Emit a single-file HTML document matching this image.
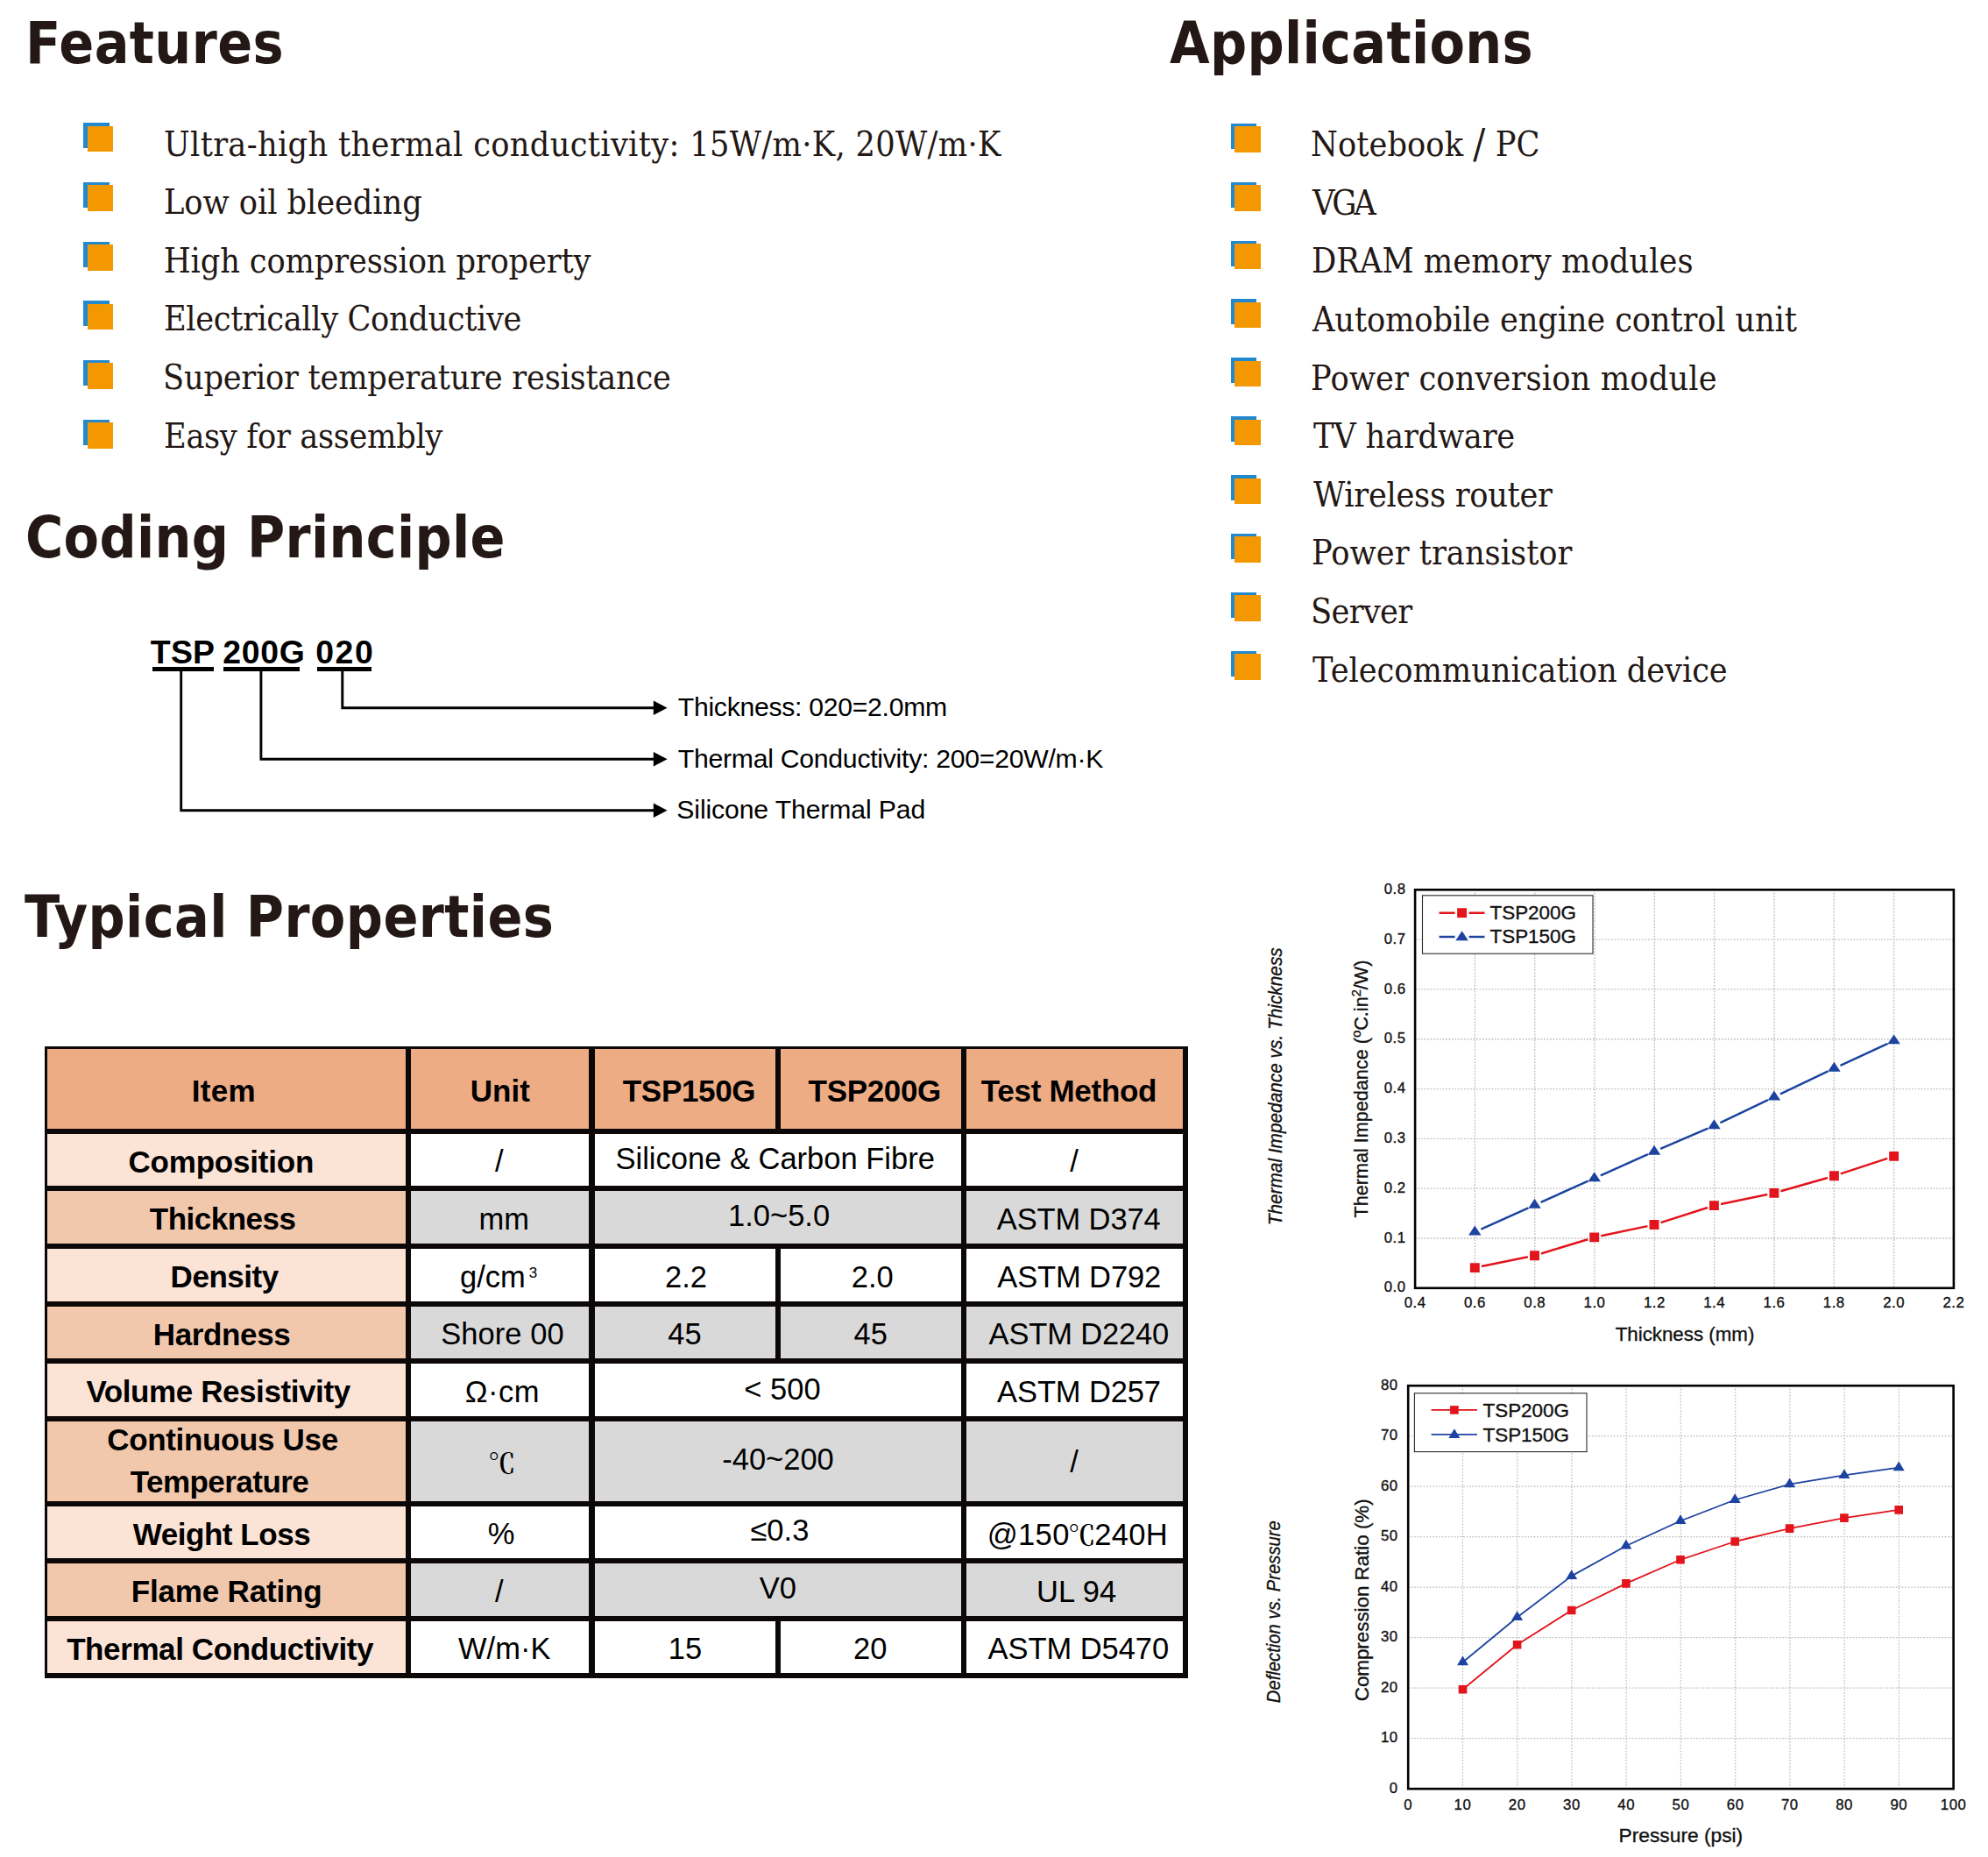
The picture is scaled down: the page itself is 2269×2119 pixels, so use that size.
<!DOCTYPE html>
<html lang="en">
<head>
<meta charset="utf-8">
<title>TSP Thermal Pad Datasheet</title>
<style>
html,body{margin:0;padding:0;background:#fff;}
body{width:2269px;height:2119px;position:relative;overflow:hidden;}
.t{position:absolute;white-space:nowrap;margin:0;padding:0;}
.r{position:absolute;}
svg{position:absolute;left:0;top:0;overflow:visible;}
svg text{font-family:"Liberation Sans",Arial,sans-serif;}
svg.ch text{stroke:#111;stroke-width:0.35px;}
</style>
</head>
<body>
<div class="t" id="h1" style="top:16.59px;font-size:65.5px;line-height:65.5px;font-family:'DejaVu Sans', 'Liberation Sans', sans-serif;color:#231815;font-weight:bold;letter-spacing:0.429px;left:29.00px;transform:scaleX(0.9);transform-origin:0 0;">Features</div>
<div class="t" id="h2" style="top:16.79px;font-size:65.5px;line-height:65.5px;font-family:'DejaVu Sans', 'Liberation Sans', sans-serif;color:#231815;font-weight:bold;letter-spacing:0.357px;left:1335.10px;transform:scaleX(0.9);transform-origin:0 0;">Applications</div>
<div class="t" id="h3" style="top:581.39px;font-size:65.5px;line-height:65.5px;font-family:'DejaVu Sans', 'Liberation Sans', sans-serif;color:#231815;font-weight:bold;letter-spacing:0.351px;left:28.80px;transform:scaleX(0.9);transform-origin:0 0;">Coding Principle</div>
<div class="t" id="h4" style="top:1014.39px;font-size:65.5px;line-height:65.5px;font-family:'DejaVu Sans', 'Liberation Sans', sans-serif;color:#231815;font-weight:bold;letter-spacing:0.455px;left:28.40px;transform:scaleX(0.9);transform-origin:0 0;">Typical Properties</div>
<div class="r" style="left:95.20px;top:140.40px;width:29.50px;height:29.00px;background:#2389cf;"></div>
<div class="r" style="left:99.60px;top:143.80px;width:29.50px;height:29.60px;background:#f39800;"></div>
<div class="t" id="f0" style="top:144.52px;font-size:39.2px;line-height:39.2px;font-family:'DejaVu Serif', 'Liberation Serif', serif;color:#231815;letter-spacing:0.355px;left:187.00px;transform:scaleX(0.9);transform-origin:0 0;">Ultra-high thermal conductivity: 15W/m·K, 20W/m·K</div>
<div class="r" style="left:95.20px;top:208.05px;width:29.50px;height:29.00px;background:#2389cf;"></div>
<div class="r" style="left:99.60px;top:211.45px;width:29.50px;height:29.60px;background:#f39800;"></div>
<div class="t" id="f1" style="top:211.12px;font-size:39.2px;line-height:39.2px;font-family:'DejaVu Serif', 'Liberation Serif', serif;color:#231815;letter-spacing:-0.074px;left:186.90px;transform:scaleX(0.9);transform-origin:0 0;">Low oil bleeding</div>
<div class="r" style="left:95.20px;top:275.70px;width:29.50px;height:29.00px;background:#2389cf;"></div>
<div class="r" style="left:99.60px;top:279.10px;width:29.50px;height:29.60px;background:#f39800;"></div>
<div class="t" id="f2" style="top:277.72px;font-size:39.2px;line-height:39.2px;font-family:'DejaVu Serif', 'Liberation Serif', serif;color:#231815;letter-spacing:-0.165px;left:187.30px;transform:scaleX(0.9);transform-origin:0 0;">High compression property</div>
<div class="r" style="left:95.20px;top:343.35px;width:29.50px;height:29.00px;background:#2389cf;"></div>
<div class="r" style="left:99.60px;top:346.75px;width:29.50px;height:29.60px;background:#f39800;"></div>
<div class="t" id="f3" style="top:344.32px;font-size:39.2px;line-height:39.2px;font-family:'DejaVu Serif', 'Liberation Serif', serif;color:#231815;letter-spacing:-0.421px;left:187.10px;transform:scaleX(0.9);transform-origin:0 0;">Electrically Conductive</div>
<div class="r" style="left:95.20px;top:411.00px;width:29.50px;height:29.00px;background:#2389cf;"></div>
<div class="r" style="left:99.60px;top:414.40px;width:29.50px;height:29.60px;background:#f39800;"></div>
<div class="t" id="f4" style="top:410.92px;font-size:39.2px;line-height:39.2px;font-family:'DejaVu Serif', 'Liberation Serif', serif;color:#231815;letter-spacing:-0.267px;left:185.80px;transform:scaleX(0.9);transform-origin:0 0;">Superior temperature resistance</div>
<div class="r" style="left:95.20px;top:478.65px;width:29.50px;height:29.00px;background:#2389cf;"></div>
<div class="r" style="left:99.60px;top:482.05px;width:29.50px;height:29.60px;background:#f39800;"></div>
<div class="t" id="f5" style="top:477.52px;font-size:39.2px;line-height:39.2px;font-family:'DejaVu Serif', 'Liberation Serif', serif;color:#231815;letter-spacing:-0.377px;left:187.30px;transform:scaleX(0.9);transform-origin:0 0;">Easy for assembly</div>
<div class="r" style="left:1404.60px;top:140.70px;width:29.50px;height:29.00px;background:#2389cf;"></div>
<div class="r" style="left:1409.00px;top:144.10px;width:29.50px;height:29.60px;background:#f39800;"></div>
<div class="t" id="a0" style="top:145.22px;font-size:39.2px;line-height:39.2px;font-family:'DejaVu Serif', 'Liberation Serif', serif;color:#231815;letter-spacing:0.073px;left:1496.30px;transform:scaleX(0.9);transform-origin:0 0;">Notebook <span style="font-size:46px;line-height:0;position:relative;top:2px">/</span> PC</div>
<div class="r" style="left:1404.60px;top:207.60px;width:29.50px;height:29.00px;background:#2389cf;"></div>
<div class="r" style="left:1409.00px;top:211.00px;width:29.50px;height:29.60px;background:#f39800;"></div>
<div class="t" id="a1" style="top:211.82px;font-size:39.2px;line-height:39.2px;font-family:'DejaVu Serif', 'Liberation Serif', serif;color:#231815;letter-spacing:-3.556px;left:1497.90px;transform:scaleX(0.9);transform-origin:0 0;">VGA</div>
<div class="r" style="left:1404.60px;top:274.50px;width:29.50px;height:29.00px;background:#2389cf;"></div>
<div class="r" style="left:1409.00px;top:277.90px;width:29.50px;height:29.60px;background:#f39800;"></div>
<div class="t" id="a2" style="top:278.42px;font-size:39.2px;line-height:39.2px;font-family:'DejaVu Serif', 'Liberation Serif', serif;color:#231815;letter-spacing:0.040px;left:1496.60px;transform:scaleX(0.9);transform-origin:0 0;">DRAM memory modules</div>
<div class="r" style="left:1404.60px;top:341.40px;width:29.50px;height:29.00px;background:#2389cf;"></div>
<div class="r" style="left:1409.00px;top:344.80px;width:29.50px;height:29.60px;background:#f39800;"></div>
<div class="t" id="a3" style="top:345.02px;font-size:39.2px;line-height:39.2px;font-family:'DejaVu Serif', 'Liberation Serif', serif;color:#231815;letter-spacing:-0.160px;left:1498.00px;transform:scaleX(0.9);transform-origin:0 0;">Automobile engine control unit</div>
<div class="r" style="left:1404.60px;top:408.30px;width:29.50px;height:29.00px;background:#2389cf;"></div>
<div class="r" style="left:1409.00px;top:411.70px;width:29.50px;height:29.60px;background:#f39800;"></div>
<div class="t" id="a4" style="top:411.62px;font-size:39.2px;line-height:39.2px;font-family:'DejaVu Serif', 'Liberation Serif', serif;color:#231815;letter-spacing:0.145px;left:1496.20px;transform:scaleX(0.9);transform-origin:0 0;">Power conversion module</div>
<div class="r" style="left:1404.60px;top:475.20px;width:29.50px;height:29.00px;background:#2389cf;"></div>
<div class="r" style="left:1409.00px;top:478.60px;width:29.50px;height:29.60px;background:#f39800;"></div>
<div class="t" id="a5" style="top:478.22px;font-size:39.2px;line-height:39.2px;font-family:'DejaVu Serif', 'Liberation Serif', serif;color:#231815;letter-spacing:-0.238px;left:1498.70px;transform:scaleX(0.9);transform-origin:0 0;">TV hardware</div>
<div class="r" style="left:1404.60px;top:542.10px;width:29.50px;height:29.00px;background:#2389cf;"></div>
<div class="r" style="left:1409.00px;top:545.50px;width:29.50px;height:29.60px;background:#f39800;"></div>
<div class="t" id="a6" style="top:544.82px;font-size:39.2px;line-height:39.2px;font-family:'DejaVu Serif', 'Liberation Serif', serif;color:#231815;letter-spacing:-0.314px;left:1498.60px;transform:scaleX(0.9);transform-origin:0 0;">Wireless router</div>
<div class="r" style="left:1404.60px;top:609.00px;width:29.50px;height:29.00px;background:#2389cf;"></div>
<div class="r" style="left:1409.00px;top:612.40px;width:29.50px;height:29.60px;background:#f39800;"></div>
<div class="t" id="a7" style="top:611.42px;font-size:39.2px;line-height:39.2px;font-family:'DejaVu Serif', 'Liberation Serif', serif;color:#231815;letter-spacing:0.019px;left:1496.60px;transform:scaleX(0.9);transform-origin:0 0;">Power transistor</div>
<div class="r" style="left:1404.60px;top:675.90px;width:29.50px;height:29.00px;background:#2389cf;"></div>
<div class="r" style="left:1409.00px;top:679.30px;width:29.50px;height:29.60px;background:#f39800;"></div>
<div class="t" id="a8" style="top:678.02px;font-size:39.2px;line-height:39.2px;font-family:'DejaVu Serif', 'Liberation Serif', serif;color:#231815;letter-spacing:-0.765px;left:1495.70px;transform:scaleX(0.9);transform-origin:0 0;">Server</div>
<div class="r" style="left:1404.60px;top:742.80px;width:29.50px;height:29.00px;background:#2389cf;"></div>
<div class="r" style="left:1409.00px;top:746.20px;width:29.50px;height:29.60px;background:#f39800;"></div>
<div class="t" id="a9" style="top:744.62px;font-size:39.2px;line-height:39.2px;font-family:'DejaVu Serif', 'Liberation Serif', serif;color:#231815;letter-spacing:-0.066px;left:1498.30px;transform:scaleX(0.9);transform-origin:0 0;">Telecommunication device</div>
<!--CODING-->
<!--TABLE-->
<!--CHART1-->
<!--CHART2-->
<div class="t" id="c1" style="top:725.54px;font-size:37.4px;line-height:37.4px;font-family:'Liberation Sans', Arial, sans-serif;color:#000;font-weight:bold;letter-spacing:0.250px;left:171.80px;">TSP</div>
<div class="t" id="c2" style="top:725.54px;font-size:37.4px;line-height:37.4px;font-family:'Liberation Sans', Arial, sans-serif;color:#000;font-weight:bold;letter-spacing:0.666px;left:254.30px;">200G</div>
<div class="t" id="c3" style="top:725.54px;font-size:37.4px;line-height:37.4px;font-family:'Liberation Sans', Arial, sans-serif;color:#000;font-weight:bold;letter-spacing:1.500px;left:360.30px;">020</div>
<div class="r" style="left:174.30px;top:761.40px;width:69.40px;height:4.20px;background:#000;"></div>
<div class="r" style="left:255.30px;top:761.40px;width:87.00px;height:4.20px;background:#000;"></div>
<div class="r" style="left:361.60px;top:761.40px;width:62.30px;height:4.20px;background:#000;"></div>
<svg width="2269" height="2119" viewBox="0 0 2269 2119"><path d="M390.8 765 V807.8 H748" fill="none" stroke="#000" stroke-width="2.9" stroke-linejoin="miter"/><path d="M761.6 807.8 L745.8 799.5999999999999 V816.0 Z" fill="#000"/><path d="M297.9 765 V866.3 H748" fill="none" stroke="#000" stroke-width="2.9" stroke-linejoin="miter"/><path d="M761.6 866.3 L745.8 858.0999999999999 V874.5 Z" fill="#000"/><path d="M206.7 765 V924.8 H748" fill="none" stroke="#000" stroke-width="2.9" stroke-linejoin="miter"/><path d="M761.6 924.8 L745.8 916.5999999999999 V933.0 Z" fill="#000"/></svg>
<div class="t" id="c4" style="top:792.24px;font-size:30.2px;line-height:30.2px;font-family:'Liberation Sans', Arial, sans-serif;color:#000;letter-spacing:-0.293px;left:773.80px;">Thickness: 020=2.0mm</div>
<div class="t" id="c5" style="top:850.84px;font-size:30.2px;line-height:30.2px;font-family:'Liberation Sans', Arial, sans-serif;color:#000;letter-spacing:-0.266px;left:773.80px;">Thermal Conductivity: 200=20W/m·K</div>
<div class="t" id="c6" style="top:909.44px;font-size:30.2px;line-height:30.2px;font-family:'Liberation Sans', Arial, sans-serif;color:#000;letter-spacing:-0.128px;left:772.30px;">Silicone Thermal Pad</div>
<div class="r" style="left:51.10px;top:1194.00px;width:1304.60px;height:721.30px;background:#0c0808;"></div>
<div class="r" style="left:54.30px;top:1197.00px;width:408.90px;height:90.80px;background:#eeac85;"></div>
<div class="r" style="left:469.10px;top:1197.00px;width:203.30px;height:90.80px;background:#eeac85;"></div>
<div class="r" style="left:678.50px;top:1197.00px;width:206.10px;height:90.80px;background:#eeac85;"></div>
<div class="r" style="left:890.90px;top:1197.00px;width:206.20px;height:90.80px;background:#eeac85;"></div>
<div class="r" style="left:1103.20px;top:1197.00px;width:246.90px;height:90.80px;background:#eeac85;"></div>
<div class="r" style="left:54.30px;top:1293.80px;width:408.90px;height:59.60px;background:#fbe3d6;"></div>
<div class="r" style="left:469.10px;top:1293.80px;width:203.30px;height:59.60px;background:#ffffff;"></div>
<div class="r" style="left:678.50px;top:1293.80px;width:418.60px;height:59.60px;background:#ffffff;"></div>
<div class="r" style="left:1103.20px;top:1293.80px;width:246.90px;height:59.60px;background:#ffffff;"></div>
<div class="r" style="left:54.30px;top:1359.40px;width:408.90px;height:59.60px;background:#f2c8ac;"></div>
<div class="r" style="left:469.10px;top:1359.40px;width:203.30px;height:59.60px;background:#d9d9d9;"></div>
<div class="r" style="left:678.50px;top:1359.40px;width:418.60px;height:59.60px;background:#d9d9d9;"></div>
<div class="r" style="left:1103.20px;top:1359.40px;width:246.90px;height:59.60px;background:#d9d9d9;"></div>
<div class="r" style="left:54.30px;top:1425.00px;width:408.90px;height:59.60px;background:#fbe3d6;"></div>
<div class="r" style="left:469.10px;top:1425.00px;width:203.30px;height:59.60px;background:#ffffff;"></div>
<div class="r" style="left:678.50px;top:1425.00px;width:206.10px;height:59.60px;background:#ffffff;"></div>
<div class="r" style="left:890.90px;top:1425.00px;width:206.20px;height:59.60px;background:#ffffff;"></div>
<div class="r" style="left:1103.20px;top:1425.00px;width:246.90px;height:59.60px;background:#ffffff;"></div>
<div class="r" style="left:54.30px;top:1490.60px;width:408.90px;height:59.60px;background:#f2c8ac;"></div>
<div class="r" style="left:469.10px;top:1490.60px;width:203.30px;height:59.60px;background:#d9d9d9;"></div>
<div class="r" style="left:678.50px;top:1490.60px;width:206.10px;height:59.60px;background:#d9d9d9;"></div>
<div class="r" style="left:890.90px;top:1490.60px;width:206.20px;height:59.60px;background:#d9d9d9;"></div>
<div class="r" style="left:1103.20px;top:1490.60px;width:246.90px;height:59.60px;background:#d9d9d9;"></div>
<div class="r" style="left:54.30px;top:1556.20px;width:408.90px;height:59.70px;background:#fbe3d6;"></div>
<div class="r" style="left:469.10px;top:1556.20px;width:203.30px;height:59.70px;background:#ffffff;"></div>
<div class="r" style="left:678.50px;top:1556.20px;width:418.60px;height:59.70px;background:#ffffff;"></div>
<div class="r" style="left:1103.20px;top:1556.20px;width:246.90px;height:59.70px;background:#ffffff;"></div>
<div class="r" style="left:54.30px;top:1621.90px;width:408.90px;height:90.70px;background:#f2c8ac;"></div>
<div class="r" style="left:469.10px;top:1621.90px;width:203.30px;height:90.70px;background:#d9d9d9;"></div>
<div class="r" style="left:678.50px;top:1621.90px;width:418.60px;height:90.70px;background:#d9d9d9;"></div>
<div class="r" style="left:1103.20px;top:1621.90px;width:246.90px;height:90.70px;background:#d9d9d9;"></div>
<div class="r" style="left:54.30px;top:1718.60px;width:408.90px;height:59.50px;background:#fbe3d6;"></div>
<div class="r" style="left:469.10px;top:1718.60px;width:203.30px;height:59.50px;background:#ffffff;"></div>
<div class="r" style="left:678.50px;top:1718.60px;width:418.60px;height:59.50px;background:#ffffff;"></div>
<div class="r" style="left:1103.20px;top:1718.60px;width:246.90px;height:59.50px;background:#ffffff;"></div>
<div class="r" style="left:54.30px;top:1784.10px;width:408.90px;height:59.60px;background:#f2c8ac;"></div>
<div class="r" style="left:469.10px;top:1784.10px;width:203.30px;height:59.60px;background:#d9d9d9;"></div>
<div class="r" style="left:678.50px;top:1784.10px;width:418.60px;height:59.60px;background:#d9d9d9;"></div>
<div class="r" style="left:1103.20px;top:1784.10px;width:246.90px;height:59.60px;background:#d9d9d9;"></div>
<div class="r" style="left:54.30px;top:1849.70px;width:408.90px;height:59.60px;background:#fbe3d6;"></div>
<div class="r" style="left:469.10px;top:1849.70px;width:203.30px;height:59.60px;background:#ffffff;"></div>
<div class="r" style="left:678.50px;top:1849.70px;width:206.10px;height:59.60px;background:#ffffff;"></div>
<div class="r" style="left:890.90px;top:1849.70px;width:206.20px;height:59.60px;background:#ffffff;"></div>
<div class="r" style="left:1103.20px;top:1849.70px;width:246.90px;height:59.60px;background:#ffffff;"></div>
<div class="t" id="th0" style="top:1226.87px;font-size:35.0px;line-height:35.0px;font-family:'Liberation Sans', Arial, sans-serif;color:#000;font-weight:bold;letter-spacing:0.299px;left:255.30px;transform:translateX(-50%);">Item</div>
<div class="t" id="th1" style="top:1226.87px;font-size:35.0px;line-height:35.0px;font-family:'Liberation Sans', Arial, sans-serif;color:#000;font-weight:bold;left:570.80px;transform:translateX(-50%);">Unit</div>
<div class="t" id="th2" style="top:1226.87px;font-size:35.0px;line-height:35.0px;font-family:'Liberation Sans', Arial, sans-serif;color:#000;font-weight:bold;letter-spacing:-0.333px;left:786.50px;transform:translateX(-50%);">TSP150G</div>
<div class="t" id="th3" style="top:1226.87px;font-size:35.0px;line-height:35.0px;font-family:'Liberation Sans', Arial, sans-serif;color:#000;font-weight:bold;letter-spacing:-0.333px;left:998.30px;transform:translateX(-50%);">TSP200G</div>
<div class="t" id="th4" style="top:1226.87px;font-size:35.0px;line-height:35.0px;font-family:'Liberation Sans', Arial, sans-serif;color:#000;font-weight:bold;letter-spacing:-0.280px;left:1220.00px;transform:translateX(-50%);">Test Method</div>
<div class="t" id="ti1" style="top:1307.87px;font-size:35.0px;line-height:35.0px;font-family:'Liberation Sans', Arial, sans-serif;color:#000;font-weight:bold;letter-spacing:-0.200px;left:252.30px;transform:translateX(-50%);">Composition</div>
<div class="t" id="ti2" style="top:1373.47px;font-size:35.0px;line-height:35.0px;font-family:'Liberation Sans', Arial, sans-serif;color:#000;font-weight:bold;letter-spacing:-0.516px;left:254.10px;transform:translateX(-50%);">Thickness</div>
<div class="t" id="ti3" style="top:1439.07px;font-size:35.0px;line-height:35.0px;font-family:'Liberation Sans', Arial, sans-serif;color:#000;font-weight:bold;letter-spacing:-0.468px;left:256.20px;transform:translateX(-50%);">Density</div>
<div class="t" id="ti4" style="top:1504.67px;font-size:35.0px;line-height:35.0px;font-family:'Liberation Sans', Arial, sans-serif;color:#000;font-weight:bold;letter-spacing:-0.357px;left:253.10px;transform:translateX(-50%);">Hardness</div>
<div class="t" id="ti5" style="top:1570.32px;font-size:35.0px;line-height:35.0px;font-family:'Liberation Sans', Arial, sans-serif;color:#000;font-weight:bold;letter-spacing:-0.412px;left:249.10px;transform:translateX(-50%);">Volume Resistivity</div>
<div class="t" id="ti7" style="top:1732.62px;font-size:35.0px;line-height:35.0px;font-family:'Liberation Sans', Arial, sans-serif;color:#000;font-weight:bold;letter-spacing:-0.460px;left:253.00px;transform:translateX(-50%);">Weight Loss</div>
<div class="t" id="ti8" style="top:1798.17px;font-size:35.0px;line-height:35.0px;font-family:'Liberation Sans', Arial, sans-serif;color:#000;font-weight:bold;letter-spacing:-0.175px;left:258.60px;transform:translateX(-50%);">Flame Rating</div>
<div class="t" id="ti9" style="top:1863.77px;font-size:35.0px;line-height:35.0px;font-family:'Liberation Sans', Arial, sans-serif;color:#000;font-weight:bold;letter-spacing:-0.396px;left:251.10px;transform:translateX(-50%);">Thermal Conductivity</div>
<div class="t" id="ti6a" style="top:1624.87px;font-size:35.0px;line-height:35.0px;font-family:'Liberation Sans', Arial, sans-serif;color:#000;font-weight:bold;letter-spacing:-0.336px;left:254.00px;transform:translateX(-50%);">Continuous Use</div>
<div class="t" id="ti6b" style="top:1672.57px;font-size:35.0px;line-height:35.0px;font-family:'Liberation Sans', Arial, sans-serif;color:#000;font-weight:bold;letter-spacing:-0.540px;left:250.50px;transform:translateX(-50%);">Temperature</div>
<div class="t" id="tu1" style="top:1308.30px;font-size:34.5px;line-height:34.5px;font-family:'Liberation Sans', Arial, sans-serif;color:#000;left:569.70px;transform:translateX(-50%);">/</div>
<div class="t" id="tu2" style="top:1373.90px;font-size:34.5px;line-height:34.5px;font-family:'Liberation Sans', Arial, sans-serif;color:#000;left:575.30px;transform:translateX(-50%);">mm</div>
<div class="t" id="tu3" style="top:1439.50px;font-size:34.5px;line-height:34.5px;font-family:'Liberation Sans', Arial, sans-serif;color:#000;left:569.10px;transform:translateX(-50%);">g/cm<sup style="font-size:17px;line-height:0;vertical-align:11px;margin-left:4px">3</sup></div>
<div class="t" id="tu4" style="top:1505.10px;font-size:34.5px;line-height:34.5px;font-family:'Liberation Sans', Arial, sans-serif;color:#000;letter-spacing:0.060px;left:573.40px;transform:translateX(-50%);">Shore 00</div>
<div class="t" id="tu5" style="top:1570.75px;font-size:34.5px;line-height:34.5px;font-family:'Liberation Sans', Arial, sans-serif;color:#000;letter-spacing:0.467px;left:573.40px;transform:translateX(-50%);">Ω·cm</div>
<div class="t" id="tu6" style="top:1650.80px;font-size:34.5px;line-height:34.5px;font-family:'Liberation Sans', Arial, sans-serif;color:#000;left:572.70px;transform:translateX(-50%);"><span style="font-family:'Noto Serif CJK SC',serif;font-weight:600;font-size:31px">℃</span></div>
<div class="t" id="tu7" style="top:1733.05px;font-size:34.5px;line-height:34.5px;font-family:'Liberation Sans', Arial, sans-serif;color:#000;left:572.00px;transform:translateX(-50%);">%</div>
<div class="t" id="tu8" style="top:1798.60px;font-size:34.5px;line-height:34.5px;font-family:'Liberation Sans', Arial, sans-serif;color:#000;left:569.70px;transform:translateX(-50%);">/</div>
<div class="t" id="tu9" style="top:1864.20px;font-size:34.5px;line-height:34.5px;font-family:'Liberation Sans', Arial, sans-serif;color:#000;letter-spacing:0.025px;left:575.70px;transform:translateX(-50%);">W/m·K</div>
<div class="t" id="tv1" style="top:1305.40px;font-size:34.5px;line-height:34.5px;font-family:'Liberation Sans', Arial, sans-serif;color:#000;left:884.70px;transform:translateX(-50%);">Silicone &amp; Carbon Fibre</div>
<div class="t" id="tv2" style="top:1370.30px;font-size:34.5px;line-height:34.5px;font-family:'Liberation Sans', Arial, sans-serif;color:#000;left:889.10px;transform:translateX(-50%);">1.0~5.0</div>
<div class="t" id="tv3a" style="top:1439.70px;font-size:34.5px;line-height:34.5px;font-family:'Liberation Sans', Arial, sans-serif;color:#000;left:783.00px;transform:translateX(-50%);">2.2</div>
<div class="t" id="tv3b" style="top:1439.70px;font-size:34.5px;line-height:34.5px;font-family:'Liberation Sans', Arial, sans-serif;color:#000;left:995.70px;transform:translateX(-50%);">2.0</div>
<div class="t" id="tv4a" style="top:1505.10px;font-size:34.5px;line-height:34.5px;font-family:'Liberation Sans', Arial, sans-serif;color:#000;left:781.40px;transform:translateX(-50%);">45</div>
<div class="t" id="tv4b" style="top:1505.10px;font-size:34.5px;line-height:34.5px;font-family:'Liberation Sans', Arial, sans-serif;color:#000;left:993.80px;transform:translateX(-50%);">45</div>
<div class="t" id="tv5" style="top:1568.40px;font-size:34.5px;line-height:34.5px;font-family:'Liberation Sans', Arial, sans-serif;color:#000;left:893.00px;transform:translateX(-50%);">&lt; 500</div>
<div class="t" id="tv6" style="top:1648.10px;font-size:34.5px;line-height:34.5px;font-family:'Liberation Sans', Arial, sans-serif;color:#000;left:888.00px;transform:translateX(-50%);">-40~200</div>
<div class="t" id="tv7" style="top:1728.60px;font-size:34.5px;line-height:34.5px;font-family:'Liberation Sans', Arial, sans-serif;color:#000;left:889.90px;transform:translateX(-50%);">≤0.3</div>
<div class="t" id="tv8" style="top:1795.10px;font-size:34.5px;line-height:34.5px;font-family:'Liberation Sans', Arial, sans-serif;color:#000;left:887.90px;transform:translateX(-50%);">V0</div>
<div class="t" id="tv9a" style="top:1864.20px;font-size:34.5px;line-height:34.5px;font-family:'Liberation Sans', Arial, sans-serif;color:#000;left:782.00px;transform:translateX(-50%);">15</div>
<div class="t" id="tv9b" style="top:1864.20px;font-size:34.5px;line-height:34.5px;font-family:'Liberation Sans', Arial, sans-serif;color:#000;left:993.30px;transform:translateX(-50%);">20</div>
<div class="t" id="tt1" style="top:1308.30px;font-size:34.5px;line-height:34.5px;font-family:'Liberation Sans', Arial, sans-serif;color:#000;left:1226.00px;transform:translateX(-50%);">/</div>
<div class="t" id="tt2" style="top:1373.90px;font-size:34.5px;line-height:34.5px;font-family:'Liberation Sans', Arial, sans-serif;color:#000;letter-spacing:-0.125px;left:1231.20px;transform:translateX(-50%);">ASTM D374</div>
<div class="t" id="tt3" style="top:1439.50px;font-size:34.5px;line-height:34.5px;font-family:'Liberation Sans', Arial, sans-serif;color:#000;letter-spacing:-0.125px;left:1231.70px;transform:translateX(-50%);">ASTM D792</div>
<div class="t" id="tt4" style="top:1505.10px;font-size:34.5px;line-height:34.5px;font-family:'Liberation Sans', Arial, sans-serif;color:#000;letter-spacing:-0.166px;left:1231.30px;transform:translateX(-50%);">ASTM D2240</div>
<div class="t" id="tt5" style="top:1570.75px;font-size:34.5px;line-height:34.5px;font-family:'Liberation Sans', Arial, sans-serif;color:#000;letter-spacing:-0.125px;left:1231.50px;transform:translateX(-50%);">ASTM D257</div>
<div class="t" id="tt6" style="top:1650.80px;font-size:34.5px;line-height:34.5px;font-family:'Liberation Sans', Arial, sans-serif;color:#000;left:1226.00px;transform:translateX(-50%);">/</div>
<div class="t" id="tt7" style="top:1733.05px;font-size:34.5px;line-height:34.5px;font-family:'Liberation Sans', Arial, sans-serif;color:#000;letter-spacing:0.375px;left:1229.90px;transform:translateX(-50%);">@150<span style="font-family:'Noto Serif CJK SC',serif;font-weight:600;font-size:31px;margin:0 -1.5px">℃</span>240H</div>
<div class="t" id="tt8" style="top:1798.60px;font-size:34.5px;line-height:34.5px;font-family:'Liberation Sans', Arial, sans-serif;color:#000;letter-spacing:0.125px;left:1228.60px;transform:translateX(-50%);">UL 94</div>
<div class="t" id="tt9" style="top:1864.20px;font-size:34.5px;line-height:34.5px;font-family:'Liberation Sans', Arial, sans-serif;color:#000;letter-spacing:-0.055px;left:1230.80px;transform:translateX(-50%);">ASTM D5470</div>
<svg width="2269" height="2119" viewBox="0 0 2269 2119" class="ch"><path d="M1683.41 1015.30V1469.80M1751.72 1015.30V1469.80M1820.03 1015.30V1469.80M1888.34 1015.30V1469.80M1956.66 1015.30V1469.80M2024.97 1015.30V1469.80M2093.28 1015.30V1469.80M2161.59 1015.30V1469.80M1615.10 1072.11H2229.90M1615.10 1128.92H2229.90M1615.10 1185.74H2229.90M1615.10 1242.55H2229.90M1615.10 1299.36H2229.90M1615.10 1356.17H2229.90M1615.10 1412.99H2229.90" fill="none" stroke="#b9b9b9" stroke-width="1.3" stroke-dasharray="1.6 1.9"/><path d="M1690.95 1445.05L1743.85 1434.35M1758.96 1430.51L1812.24 1414.19M1827.33 1410.29L1880.37 1399.11M1895.43 1395.12L1948.97 1377.98M1964.04 1374.02L2017.26 1362.98M2032.40 1359.25L2085.90 1343.95M2100.81 1339.37L2154.19 1321.83" fill="none" stroke="#e2141c" stroke-width="2.5" stroke-linejoin="round"/><path d="M1677.85 1441.15h10.9v10.9h-10.9zM1746.05 1427.35h10.9v10.9h-10.9zM1814.25 1406.45h10.9v10.9h-10.9zM1882.55 1392.05h10.9v10.9h-10.9zM1950.95 1370.15h10.9v10.9h-10.9zM2019.45 1355.95h10.9v10.9h-10.9zM2087.95 1336.35h10.9v10.9h-10.9zM2156.15 1313.95h10.9v10.9h-10.9z" fill="#e2141c"/><path d="M1690.41 1402.61L1744.39 1378.32M1758.62 1371.92L1812.58 1347.71M1826.82 1341.34L1880.88 1317.20M1895.16 1310.93L1949.24 1287.61M1963.44 1281.16L2017.86 1255.18M2031.94 1248.46L2086.36 1222.48M2100.49 1215.85L2154.51 1190.98" fill="none" stroke="#1d43a0" stroke-width="2.5" stroke-linejoin="round"/><path d="M1683.30 1398.55L1690.55 1409.45H1676.05zM1751.50 1367.85L1758.75 1378.75H1744.25zM1819.70 1337.25L1826.95 1348.15H1812.45zM1888.00 1306.75L1895.25 1317.65H1880.75zM1956.40 1277.25L1963.65 1288.15H1949.15zM2024.90 1244.55L2032.15 1255.45H2017.65zM2093.40 1211.85L2100.65 1222.75H2086.15zM2161.60 1180.45L2168.85 1191.35H2154.35z" fill="#1d43a0"/><rect x="1615.10" y="1015.30" width="614.80" height="454.50" fill="none" stroke="#000" stroke-width="2.6"/><rect x="1623.5" y="1021.8" width="194.50" height="66.40" fill="#fff" stroke="#2a2a2a" stroke-width="1.1"/><path d="M1642.6 1041.7H1660.6M1676.6 1041.7H1694.5" stroke="#e2141c" stroke-width="2.5" fill="none"/><path d="M1663.15 1036.25h10.9v10.9h-10.9z" fill="#e2141c"/><text x="1700.5" y="1049.3" font-size="22.6" fill="#111" textLength="98.5" lengthAdjust="spacingAndGlyphs">TSP200G</text><path d="M1642.6 1068.9H1660.6M1676.6 1068.9H1694.5" stroke="#1d43a0" stroke-width="2.5" fill="none"/><path d="M1668.60 1062.25L1675.85 1073.15H1661.35z" fill="#1d43a0"/><text x="1700.5" y="1076.4" font-size="22.6" fill="#111" textLength="98.5" lengthAdjust="spacingAndGlyphs">TSP150G</text><text x="1615.10" y="1492.2" font-size="16.8" fill="#111" text-anchor="middle" letter-spacing="0.5">0.4</text><text x="1683.41" y="1492.2" font-size="16.8" fill="#111" text-anchor="middle" letter-spacing="0.5">0.6</text><text x="1751.72" y="1492.2" font-size="16.8" fill="#111" text-anchor="middle" letter-spacing="0.5">0.8</text><text x="1820.03" y="1492.2" font-size="16.8" fill="#111" text-anchor="middle" letter-spacing="0.5">1.0</text><text x="1888.34" y="1492.2" font-size="16.8" fill="#111" text-anchor="middle" letter-spacing="0.5">1.2</text><text x="1956.66" y="1492.2" font-size="16.8" fill="#111" text-anchor="middle" letter-spacing="0.5">1.4</text><text x="2024.97" y="1492.2" font-size="16.8" fill="#111" text-anchor="middle" letter-spacing="0.5">1.6</text><text x="2093.28" y="1492.2" font-size="16.8" fill="#111" text-anchor="middle" letter-spacing="0.5">1.8</text><text x="2161.59" y="1492.2" font-size="16.8" fill="#111" text-anchor="middle" letter-spacing="0.5">2.0</text><text x="2229.90" y="1492.2" font-size="16.8" fill="#111" text-anchor="middle" letter-spacing="0.5">2.2</text><text x="1604.6" y="1474.40" font-size="16.8" fill="#111" text-anchor="end" letter-spacing="0.5">0.0</text><text x="1604.6" y="1417.59" font-size="16.8" fill="#111" text-anchor="end" letter-spacing="0.5">0.1</text><text x="1604.6" y="1360.78" font-size="16.8" fill="#111" text-anchor="end" letter-spacing="0.5">0.2</text><text x="1604.6" y="1303.96" font-size="16.8" fill="#111" text-anchor="end" letter-spacing="0.5">0.3</text><text x="1604.6" y="1247.15" font-size="16.8" fill="#111" text-anchor="end" letter-spacing="0.5">0.4</text><text x="1604.6" y="1190.34" font-size="16.8" fill="#111" text-anchor="end" letter-spacing="0.5">0.5</text><text x="1604.6" y="1133.53" font-size="16.8" fill="#111" text-anchor="end" letter-spacing="0.5">0.6</text><text x="1604.6" y="1076.71" font-size="16.8" fill="#111" text-anchor="end" letter-spacing="0.5">0.7</text><text x="1604.6" y="1019.90" font-size="16.8" fill="#111" text-anchor="end" letter-spacing="0.5">0.8</text><text x="1923" y="1529.8" font-size="22.6" fill="#111" text-anchor="middle" textLength="158.7" lengthAdjust="spacingAndGlyphs">Thickness (mm)</text><text transform="translate(1560.9 1242.5) rotate(-90)" font-size="22.2" fill="#111" text-anchor="middle" textLength="293.8" lengthAdjust="spacingAndGlyphs">Thermal Impedance (<tspan font-size="15.5" dy="-8">o</tspan><tspan dy="8">C.in</tspan><tspan font-size="15" dy="-8">2</tspan><tspan dy="8">/W)</tspan></text><text transform="translate(1462.6 1239.8) rotate(-90)" font-size="22.6" font-style="italic" fill="#111" text-anchor="middle" textLength="317.0" lengthAdjust="spacingAndGlyphs">Thermal Impedance vs. Thickness</text></svg>
<svg width="2269" height="2119" viewBox="0 0 2269 2119" class="ch"><path d="M1669.44 1581.20V2041.20M1731.68 1581.20V2041.20M1793.92 1581.20V2041.20M1856.16 1581.20V2041.20M1918.40 1581.20V2041.20M1980.64 1581.20V2041.20M2042.88 1581.20V2041.20M2105.12 1581.20V2041.20M2167.36 1581.20V2041.20M1607.20 1638.70H2229.60M1607.20 1696.20H2229.60M1607.20 1753.70H2229.60M1607.20 1811.20H2229.60M1607.20 1868.70H2229.60M1607.20 1926.20H2229.60M1607.20 1983.70H2229.60" fill="none" stroke="#b9b9b9" stroke-width="1.3" stroke-dasharray="1.6 1.9"/><path d="M1669.50 1927.80L1731.60 1876.70L1793.70 1837.50L1855.90 1806.90L1918.00 1779.80L1980.20 1759.00L2042.60 1744.10L2104.90 1732.10L2167.20 1722.90" fill="none" stroke="#e2141c" stroke-width="1.8" stroke-linejoin="round"/><path d="M1664.70 1923.00h9.6v9.6h-9.6zM1726.80 1871.90h9.6v9.6h-9.6zM1788.90 1832.70h9.6v9.6h-9.6zM1851.10 1802.10h9.6v9.6h-9.6zM1913.20 1775.00h9.6v9.6h-9.6zM1975.40 1754.20h9.6v9.6h-9.6zM2037.80 1739.30h9.6v9.6h-9.6zM2100.10 1727.30h9.6v9.6h-9.6zM2162.40 1718.10h9.6v9.6h-9.6z" fill="#e2141c"/><path d="M1669.50 1896.70L1731.60 1845.50L1793.70 1798.40L1855.90 1764.00L1918.00 1735.50L1980.20 1711.50L2042.60 1693.60L2104.90 1683.40L2167.20 1674.60" fill="none" stroke="#1d43a0" stroke-width="1.8" stroke-linejoin="round"/><path d="M1669.50 1889.50L1676.00 1900.30H1663.00zM1731.60 1838.30L1738.10 1849.10H1725.10zM1793.70 1791.20L1800.20 1802.00H1787.20zM1855.90 1756.80L1862.40 1767.60H1849.40zM1918.00 1728.30L1924.50 1739.10H1911.50zM1980.20 1704.30L1986.70 1715.10H1973.70zM2042.60 1686.40L2049.10 1697.20H2036.10zM2104.90 1676.20L2111.40 1687.00H2098.40zM2167.20 1667.40L2173.70 1678.20H2160.70z" fill="#1d43a0"/><rect x="1607.20" y="1581.20" width="622.40" height="460.00" fill="none" stroke="#000" stroke-width="2.6"/><rect x="1614.4" y="1589.8" width="196.60" height="66.80" fill="#fff" stroke="#2a2a2a" stroke-width="1.1"/><path d="M1633.6 1608.9H1685.9" stroke="#e2141c" stroke-width="1.8" fill="none"/><path d="M1655.10 1604.10h9.6v9.6h-9.6z" fill="#e2141c"/><text x="1692.5" y="1616.9" font-size="22.6" fill="#111" textLength="98.5" lengthAdjust="spacingAndGlyphs">TSP200G</text><path d="M1633.6 1636.9H1685.9" stroke="#1d43a0" stroke-width="1.8" fill="none"/><path d="M1659.90 1630.30L1666.40 1641.10H1653.40z" fill="#1d43a0"/><text x="1692.5" y="1644.7" font-size="22.6" fill="#111" textLength="98.5" lengthAdjust="spacingAndGlyphs">TSP150G</text><text x="1607.20" y="2064.5" font-size="16.8" fill="#111" text-anchor="middle" letter-spacing="0.5">0</text><text x="1669.44" y="2064.5" font-size="16.8" fill="#111" text-anchor="middle" letter-spacing="0.5">10</text><text x="1731.68" y="2064.5" font-size="16.8" fill="#111" text-anchor="middle" letter-spacing="0.5">20</text><text x="1793.92" y="2064.5" font-size="16.8" fill="#111" text-anchor="middle" letter-spacing="0.5">30</text><text x="1856.16" y="2064.5" font-size="16.8" fill="#111" text-anchor="middle" letter-spacing="0.5">40</text><text x="1918.40" y="2064.5" font-size="16.8" fill="#111" text-anchor="middle" letter-spacing="0.5">50</text><text x="1980.64" y="2064.5" font-size="16.8" fill="#111" text-anchor="middle" letter-spacing="0.5">60</text><text x="2042.88" y="2064.5" font-size="16.8" fill="#111" text-anchor="middle" letter-spacing="0.5">70</text><text x="2105.12" y="2064.5" font-size="16.8" fill="#111" text-anchor="middle" letter-spacing="0.5">80</text><text x="2167.36" y="2064.5" font-size="16.8" fill="#111" text-anchor="middle" letter-spacing="0.5">90</text><text x="2229.60" y="2064.5" font-size="16.8" fill="#111" text-anchor="middle" letter-spacing="0.5">100</text><text x="1595.6" y="2045.80" font-size="16.8" fill="#111" text-anchor="end" letter-spacing="0.5">0</text><text x="1595.6" y="1988.30" font-size="16.8" fill="#111" text-anchor="end" letter-spacing="0.5">10</text><text x="1595.6" y="1930.80" font-size="16.8" fill="#111" text-anchor="end" letter-spacing="0.5">20</text><text x="1595.6" y="1873.30" font-size="16.8" fill="#111" text-anchor="end" letter-spacing="0.5">30</text><text x="1595.6" y="1815.80" font-size="16.8" fill="#111" text-anchor="end" letter-spacing="0.5">40</text><text x="1595.6" y="1758.30" font-size="16.8" fill="#111" text-anchor="end" letter-spacing="0.5">50</text><text x="1595.6" y="1700.80" font-size="16.8" fill="#111" text-anchor="end" letter-spacing="0.5">60</text><text x="1595.6" y="1643.30" font-size="16.8" fill="#111" text-anchor="end" letter-spacing="0.5">70</text><text x="1595.6" y="1585.80" font-size="16.8" fill="#111" text-anchor="end" letter-spacing="0.5">80</text><text x="1918.4" y="2101.6" font-size="22.6" fill="#111" text-anchor="middle" textLength="141.6" lengthAdjust="spacingAndGlyphs">Pressure (psi)</text><text transform="translate(1561.6 1825.8) rotate(-90)" font-size="22.6" fill="#111" text-anchor="middle" textLength="230.8" lengthAdjust="spacingAndGlyphs">Compression Ratio (%)</text><text transform="translate(1461.3 1839.2) rotate(-90)" font-size="22.6" font-style="italic" fill="#111" text-anchor="middle" textLength="208.0" lengthAdjust="spacingAndGlyphs">Deflection vs. Pressure</text></svg>
</body>
</html>
